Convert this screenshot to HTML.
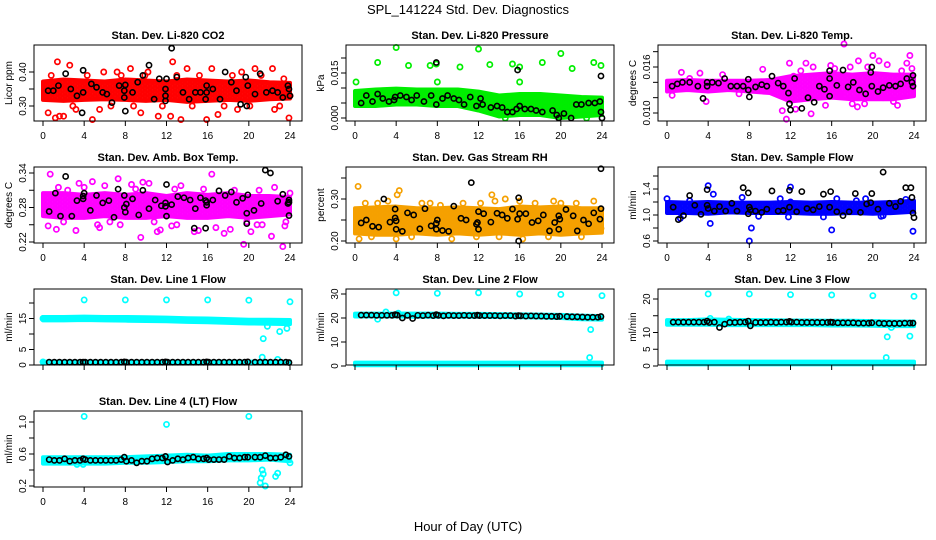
<!DOCTYPE html>
<html><head><meta charset="utf-8"><style>
html,body{margin:0;padding:0;background:#fff;}
svg{display:block;font-family:"Liberation Sans",sans-serif;}
</style></head><body>
<svg id="chart" width="936" height="540" viewBox="0 0 936 540">
<defs id="defs"></defs>
<text x="468" y="14" font-size="13" text-anchor="middle">SPL_141224  Std. Dev. Diagnostics</text>
<text x="468" y="531" font-size="13" text-anchor="middle">Hour of Day (UTC)</text>
</svg>
<script>
// ---- shared data ----
const hourTicks = [0,4,8,12,16,20,24];
const bandHours = [0,2,4,6,8,10,12,14,16,18,20,22,24];
const lineHours = [0.6,1.1,1.6,2.1,2.6,3.1,3.6,3.9,4.1,4.6,5.1,5.6,6.1,6.6,7.1,7.6,7.9,8.1,8.6,9.1,9.6,10.1,10.6,11.1,11.6,11.9,12.1,12.6,13.1,13.6,14.1,14.6,15.1,15.6,15.9,16.1,16.6,17.1,17.6,18.1,18.6,19.1,19.6,19.9,20.6,21.1,21.6,22.1,22.6,23.1,23.6,23.9];

// CO2
const co2BandLo = [0.318,0.315,0.318,0.320,0.318,0.315,0.318,0.312,0.315,0.318,0.315,0.320,0.322];
const co2BandHi = [0.372,0.378,0.375,0.372,0.378,0.375,0.372,0.378,0.375,0.372,0.375,0.370,0.368];
const co2Red = [[0.5,0.28],[1.2,0.265],[1.4,0.43],[1.6,0.27],[2,0.27],[2.6,0.42],[4.8,0.26],[7.2,0.40],[7.6,0.39],[8.5,0.41],[9.5,0.28],[10.2,0.40],[11.2,0.27],[12.4,0.27],[12.6,0.43],[13.4,0.26],[14,0.41],[15.9,0.26],[16.4,0.41],[17,0.275],[19.3,0.40],[20.6,0.41],[22.3,0.41],[23.9,0.265],[22.5,0.29],[3.2,0.29],[5.5,0.29],[18.9,0.29],[0.8,0.39],[2.9,0.30],[4.3,0.39],[5.9,0.40],[6.6,0.30],[8.8,0.30],[9.9,0.39],[11.6,0.30],[13.0,0.39],[14.5,0.30],[15.2,0.39],[17.6,0.30],[18.4,0.39],[20.1,0.30],[21.2,0.39],[23.0,0.30],[23.4,0.38],[0.2,0.325],[24,0.33]];
const co2Black = [[0.5,0.345],[1.0,0.345],[1.5,0.36],[2.2,0.395],[2.7,0.35],[3.3,0.33],[3.8,0.28],[3.9,0.34],[3.9,0.405],[4.7,0.365],[5.2,0.355],[5.8,0.34],[6.2,0.335],[6.7,0.31],[7.4,0.36],[7.9,0.345],[7.9,0.325],[8,0.285],[8,0.362],[8.7,0.34],[9.2,0.37],[9.7,0.39],[10.3,0.42],[10.8,0.32],[11.3,0.38],[11.9,0.315],[11.9,0.35],[11.9,0.33],[12.0,0.38],[12.5,0.47],[13.0,0.385],[13.6,0.34],[14.2,0.32],[14.8,0.34],[15.3,0.34],[15.8,0.32],[15.9,0.34],[15.9,0.36],[16.5,0.35],[17.2,0.32],[17.7,0.40],[18.3,0.37],[18.8,0.345],[19.2,0.305],[19.7,0.385],[19.8,0.30],[19.9,0.36],[20.6,0.335],[21.1,0.395],[21.7,0.34],[22.3,0.345],[22.8,0.34],[23.3,0.325],[23.8,0.36],[23.9,0.35],[24,0.33]];

// Pressure
const presBandLo = [0.0040,0.0040,0.0045,0.0045,0.0040,0.0040,0.0025,0.0005,0.0010,0.0010,0.0000,0.0005,0.0010];
const presBandHi = [0.0090,0.0095,0.0098,0.0095,0.0095,0.0095,0.0088,0.0075,0.0080,0.0080,0.0075,0.0070,0.0068];
const presGreen = [[0.1,0.012],[2.2,0.0185],[4,0.0235],[5.2,0.0175],[7.3,0.0175],[7.9,0.018],[8.0,0.012],[10.2,0.017],[12,0.023],[13.1,0.0178],[15.3,0.018],[16,0.012],[18.2,0.0185],[20,0.0215],[21.1,0.0165],[23.2,0.0185],[23.9,0.0175],[16,0.017],[19.7,0.0045],[14.6,0.0],[22.5,0.0]];
const presBlack = [[0.6,0.005],[1.1,0.0075],[1.7,0.0055],[2.2,0.008],[2.7,0.0065],[3.3,0.0055],[3.8,0.006],[3.9,0.007],[4.4,0.0075],[5.0,0.007],[5.5,0.006],[6.0,0.0075],[6.7,0.0055],[7.4,0.0075],[7.9,0.0045],[7.9,0.0185],[8.5,0.0065],[9.0,0.0075],[9.6,0.0065],[10.1,0.006],[10.6,0.0045],[11.2,0.007],[11.8,0.004],[12.2,0.0065],[12.4,0.0045],[13.2,0.0035],[13.8,0.004],[14.3,0.0035],[14.8,0.002],[15.3,0.002],[15.7,0.003],[15.8,0.016],[16,0.004],[16.5,0.003],[17.1,0.003],[17.6,0.0025],[18.2,0.002],[19.2,0.0025],[19.6,0.001],[19.8,0.0],[20.3,0.0015],[21.0,0.0],[21.5,0.0045],[22.0,0.0045],[22.7,0.005],[23.3,0.005],[23.8,0.0055],[23.9,0.002],[24,0.0],[23.9,0.014]];

// Li-820 temp
const ltBandLo = [0.0128,0.0130,0.0128,0.0130,0.0128,0.0126,0.0115,0.0118,0.0120,0.0118,0.0118,0.0118,0.0122];
const ltBandHi = [0.0142,0.0143,0.0142,0.0142,0.0142,0.0143,0.0148,0.0150,0.0152,0.0150,0.0152,0.0150,0.0150];
const ltMag = [[0.5,0.0123],[1.4,0.0153],[2.2,0.0145],[3.2,0.0152],[3.8,0.0115],[5.4,0.015],[7,0.0125],[9.3,0.0157],[11.2,0.0103],[11.6,0.0092],[11.9,0.0165],[12.3,0.0148],[13.5,0.0165],[14.2,0.016],[15,0.0148],[15.9,0.0162],[16.8,0.0125],[17.2,0.019],[17.8,0.016],[18.6,0.0168],[18.5,0.0108],[19.2,0.0112],[19.5,0.016],[20,0.0175],[21.0,0.012],[21.4,0.0163],[22,0.0115],[22.4,0.011],[23.3,0.0165],[23.6,0.0175],[23.8,0.0158],[12.5,0.0105],[14,0.0099],[13,0.0155],[16.3,0.0158],[18,0.0112],[20.6,0.0168],[22.8,0.0155],[15.4,0.0110]];
const ltBlack = [[0.5,0.0135],[1,0.0138],[1.5,0.014],[2.2,0.014],[3.0,0.0135],[3.5,0.0119],[3.9,0.014],[3.9,0.0135],[4.4,0.014],[5.0,0.0139],[5.6,0.0145],[6.2,0.0135],[6.8,0.0135],[7.4,0.0135],[7.9,0.0144],[7.9,0.013],[8.0,0.0121],[8.6,0.0134],[9.2,0.0137],[9.7,0.0135],[10.2,0.0148],[10.8,0.0139],[11.3,0.0135],[11.8,0.0126],[11.9,0.0112],[12.0,0.0104],[12.4,0.0145],[13.1,0.0106],[13.7,0.012],[14.3,0.0114],[14.8,0.0135],[15.3,0.0131],[15.8,0.0122],[15.8,0.0145],[15.8,0.0155],[16.5,0.0136],[17.1,0.0156],[17.6,0.0134],[18.1,0.014],[18.7,0.013],[19.3,0.0125],[19.8,0.0153],[19.9,0.016],[19.9,0.0135],[20.5,0.0128],[21.0,0.0133],[21.6,0.0136],[22.2,0.0135],[22.7,0.0138],[23.3,0.0145],[23.8,0.014],[23.9,0.0149],[23.9,0.0135]];

// Amb box temp
const abBandLo = [0.265,0.262,0.262,0.265,0.262,0.262,0.265,0.262,0.262,0.265,0.262,0.265,0.268];
const abBandHi = [0.305,0.305,0.302,0.305,0.302,0.305,0.300,0.305,0.302,0.305,0.300,0.300,0.298];
const abMag = [[0.7,0.338],[0.5,0.248],[1.3,0.242],[1.5,0.315],[2.4,0.31],[3.2,0.24],[4.0,0.315],[4.8,0.325],[5.3,0.25],[5.5,0.245],[6.0,0.318],[7.3,0.33],[7.5,0.25],[8.6,0.32],[9.5,0.228],[9.7,0.324],[10.3,0.322],[11.1,0.238],[11.4,0.241],[12.5,0.248],[13.4,0.318],[14.7,0.238],[15.1,0.24],[16.4,0.338],[16.8,0.245],[17.6,0.235],[18.2,0.242],[19.5,0.216],[19.8,0.255],[20.2,0.238],[20.8,0.25],[21.3,0.25],[22.5,0.315],[22.2,0.23],[23.3,0.212],[23.6,0.255],[23.5,0.248],[13.0,0.25],[3.5,0.322],[2.0,0.255],[6.5,0.255],[9.0,0.312],[10.8,0.255],[12.8,0.312],[15.6,0.312],[18.6,0.31],[21.0,0.31],[24,0.305]];
const abBlack = [[0.6,0.273],[1.2,0.305],[1.7,0.265],[2.2,0.334],[2.8,0.265],[3.3,0.292],[3.9,0.295],[3.9,0.3],[4.0,0.305],[4.6,0.275],[5.2,0.301],[5.8,0.288],[6.4,0.292],[6.9,0.263],[7.3,0.312],[7.9,0.301],[7.9,0.28],[8.0,0.272],[8.1,0.286],[8.7,0.295],[9.3,0.267],[9.7,0.31],[10.3,0.278],[10.9,0.293],[11.5,0.283],[11.9,0.288],[11.9,0.282],[12.0,0.32],[12.0,0.265],[12.5,0.285],[13.1,0.299],[13.7,0.297],[14.3,0.293],[14.7,0.244],[14.8,0.278],[15.3,0.297],[15.8,0.244],[15.8,0.292],[15.9,0.289],[15.9,0.284],[16.5,0.293],[17.1,0.309],[17.7,0.301],[18.3,0.307],[18.8,0.289],[19.4,0.296],[19.8,0.252],[19.8,0.27],[19.9,0.302],[20.5,0.275],[21.2,0.287],[21.6,0.345],[22.1,0.34],[22.8,0.291],[23.3,0.303],[23.8,0.287],[23.9,0.289],[23.9,0.266],[23.9,0.293]];

// Gas stream RH
const rhBandLo = [0.218,0.215,0.215,0.218,0.215,0.218,0.215,0.218,0.215,0.218,0.215,0.218,0.220];
const rhBandHi = [0.278,0.280,0.282,0.278,0.278,0.280,0.278,0.276,0.282,0.280,0.282,0.278,0.278];
const rhOrange = [[0.3,0.33],[0.4,0.205],[1.0,0.29],[2.2,0.29],[3.2,0.295],[4.1,0.31],[4.3,0.32],[4.0,0.205],[6.5,0.29],[7.3,0.29],[8.3,0.285],[9.4,0.205],[11.8,0.21],[12.2,0.29],[13.3,0.31],[13.6,0.295],[14.6,0.3],[16.0,0.295],[16.3,0.205],[18.8,0.21],[19.3,0.295],[20.0,0.29],[21.5,0.29],[23.2,0.295],[23.9,0.23],[1.6,0.21],[5.5,0.21],[10.5,0.29],[14.0,0.21],[17.5,0.29],[22.0,0.21]];
const rhBlack = [[0.6,0.243],[1.1,0.25],[1.7,0.235],[2.3,0.233],[2.8,0.3],[3.4,0.245],[3.9,0.255],[3.9,0.276],[4.0,0.228],[4.0,0.248],[4.6,0.223],[5.1,0.267],[5.7,0.262],[6.3,0.229],[6.8,0.277],[7.4,0.236],[7.9,0.242],[7.9,0.228],[8.0,0.25],[8.5,0.225],[9.1,0.223],[9.6,0.283],[10.3,0.254],[10.8,0.25],[11.3,0.339],[11.8,0.24],[11.9,0.244],[12.0,0.228],[12.0,0.27],[12.5,0.265],[13.2,0.245],[13.8,0.266],[14.3,0.262],[14.8,0.254],[15.3,0.276],[15.8,0.252],[15.9,0.2],[15.9,0.303],[16.0,0.265],[16.6,0.265],[17.2,0.244],[17.8,0.248],[18.3,0.262],[18.9,0.224],[19.4,0.244],[19.8,0.26],[19.8,0.228],[19.9,0.252],[20.5,0.275],[21.2,0.26],[21.6,0.224],[22.2,0.25],[22.7,0.241],[23.2,0.267],[23.8,0.252],[23.9,0.277],[23.9,0.372]];

// Sample flow
const sfBandLo = [1.03,1.03,1.02,1.04,1.03,1.03,1.03,1.02,1.02,1.03,1.02,1.03,1.05];
const sfBandHi = [1.20,1.19,1.20,1.19,1.19,1.19,1.20,1.19,1.20,1.19,1.19,1.20,1.22];
const sfBlue = [[0,1.25],[1.3,0.95],[2.2,1.22],[4.0,1.45],[4.2,0.87],[4.5,1.32],[7.3,1.27],[8.0,0.6],[8.2,0.8],[8.9,0.98],[11.0,1.25],[12.0,1.43],[11.8,0.97],[15.2,0.97],[16.0,0.77],[16.5,1.25],[19.3,1.25],[20.8,0.98],[23.9,0.75],[18.4,1.22],[12,1.2],[23.2,1.24],[21,0.99]];
const sfBlack = [[0.6,1.12],[1.1,0.93],[1.6,0.99],[2.2,1.3],[2.7,1.15],[3.3,1.01],[3.9,1.39],[3.9,1.15],[4.0,1.1],[4.6,1.06],[5.1,1.13],[5.7,1.06],[6.3,1.18],[6.8,1.06],[7.4,1.42],[7.9,1.34],[7.9,1.02],[8.0,1.12],[8.1,1.08],[8.6,1.06],[9.2,1.04],[9.7,1.09],[10.2,1.37],[10.8,1.06],[11.3,1.07],[11.9,1.12],[11.9,1.38],[12.6,1.05],[13.1,1.36],[13.6,1.1],[14.2,1.08],[14.8,1.13],[15.2,1.32],[15.8,1.12],[15.9,1.36],[16.5,1.05],[17.1,0.99],[17.7,1.05],[18.3,1.33],[18.8,1.04],[19.4,1.17],[19.8,1.19],[19.9,1.33],[20.5,1.09],[21.0,1.66],[21.6,1.18],[22.2,1.13],[22.7,1.21],[23.2,1.42],[23.7,1.42],[23.8,1.27],[23.9,1.03],[24,0.96]];

// Line 1 flow
const l1BandLo = [14.4,14.4,14.5,14.4,14.3,14.2,14.1,13.9,13.8,13.6,13.4,13.3,13.2];
const l1BandHi = [15.5,15.5,15.6,15.5,15.5,15.4,15.3,15.1,15.0,14.8,14.6,14.6,14.5];
const l1LowLo = [0.7,0.7,0.7,0.7,0.7,0.7,0.7,0.7,0.7,0.7,0.7,0.7,0.7];
const l1LowHi = [1.1,1.1,1.1,1.1,1.1,1.1,1.1,1.1,1.1,1.1,1.1,1.1,1.1];
const l1Cyan = [[4,21],[8,21],[12,21],[16,21],[20,20.9],[24,20.4],[21.3,2.5],[21.4,8.5],[21.8,12.5],[22.8,1.8],[23.0,10.8],[23.7,11.8],[0,15],[0,1]];
const l1Black = [0.9,0.9,0.9,0.9,0.9,0.9,0.9,0.9,0.9,0.9,0.9,0.9,0.9,0.9,0.9,0.9,1.0,0.9,0.9,0.9,0.9,0.9,0.9,0.9,0.9,1.0,0.9,0.9,0.9,0.9,0.9,0.9,0.9,0.9,1.0,0.9,0.9,0.9,0.9,0.9,0.9,0.9,0.9,1.0,0.9,0.9,0.9,0.9,0.9,0.9,0.9,0.8];

// Line 2 flow
const l2BandLo = [20.6,20.6,20.6,20.5,20.5,20.5,20.5,20.4,20.3,20.2,20.0,19.5,19.3];
const l2BandHi = [21.8,21.8,21.9,21.8,21.8,21.7,21.7,21.6,21.5,21.4,21.3,21.0,20.8];
const l2LowLo = [0.3,0.3,0.3,0.3,0.3,0.3,0.3,0.3,0.3,0.3,0.3,0.3,0.3];
const l2LowHi = [1.4,1.4,1.4,1.4,1.4,1.4,1.4,1.4,1.4,1.4,1.4,1.4,1.4];
const l2Cyan = [[4,30.5],[8,30.3],[12,30.5],[16,30],[20,29.8],[24,29.3],[22.9,15.2],[22.8,3.5],[2.2,19.5],[3,22.5],[4.2,22]];
const l2Black = [21.2,21.2,21.2,21.1,21.1,21.1,21.1,21.4,21.2,20.0,21.1,19.8,21.1,21.0,21.2,21.0,21.4,21.1,20.9,21.1,21.0,21.0,21.1,21.0,21.0,21.2,21.0,21.0,21.0,21.0,20.9,21.0,21.0,20.8,21.0,20.9,20.8,20.9,20.8,20.8,20.7,20.7,20.6,20.7,20.6,20.5,20.5,20.4,20.3,20.3,20.3,20.6];

// Line 3 flow
const l3BandLo = [12.3,12.3,12.3,12.2,12.2,12.2,12.2,12.2,12.1,12.1,12.0,11.9,11.9];
const l3BandHi = [13.7,13.7,13.9,13.8,13.7,13.7,13.6,13.6,13.5,13.5,13.4,13.3,13.3];
const l3LowLo = [0.5,0.5,0.5,0.5,0.5,0.5,0.5,0.5,0.5,0.5,0.5,0.5,0.5];
const l3LowHi = [1.3,1.3,1.3,1.3,1.3,1.3,1.3,1.3,1.3,1.3,1.3,1.3,1.3];
const l3Cyan = [[4,21.5],[8,21.5],[12,21.3],[16,21.2],[20,21],[24,20.8],[21.3,2.5],[21.4,8.7],[21.8,11.5],[23.6,8.9],[4.2,14.2],[6,14]];
const l3Black = [13.1,13.1,13.1,13.1,13.1,13.1,13.1,13.4,13.0,13.1,11.5,12.5,13.0,13.0,13.1,13.1,13.4,12.0,13.0,13.0,13.0,13.1,13.0,13.1,13.1,13.3,13.1,13.1,13.0,13.0,13.0,13.0,13.0,13.0,13.1,13.0,12.9,12.9,12.9,12.9,12.8,12.8,12.8,12.9,12.8,12.7,12.7,12.7,12.7,12.8,12.8,12.8];

// Line 4 flow
const l4BandLo = [0.48,0.48,0.48,0.48,0.49,0.49,0.50,0.51,0.51,0.52,0.52,0.53,0.51];
const l4BandHi = [0.56,0.56,0.56,0.56,0.56,0.57,0.58,0.59,0.58,0.60,0.60,0.60,0.59];
const l4Cyan = [[4,1.07],[12,0.97],[20,1.07],[21.1,0.24],[21.2,0.3],[21.3,0.4],[21.4,0.35],[21.6,0.2],[22.6,0.32],[22.8,0.36],[3.9,0.47],[3.3,0.47],[24,0.49]];
const l4Black = [0.53,0.52,0.52,0.54,0.51,0.52,0.52,0.54,0.53,0.52,0.52,0.52,0.52,0.52,0.52,0.53,0.56,0.51,0.52,0.49,0.51,0.51,0.54,0.55,0.55,0.57,0.50,0.52,0.54,0.53,0.55,0.56,0.54,0.54,0.55,0.53,0.53,0.53,0.53,0.57,0.55,0.55,0.56,0.56,0.56,0.56,0.58,0.55,0.55,0.56,0.59,0.57];

// ---- drawing ----
const svg = document.getElementById('chart');
const defs = document.getElementById('defs');
const NS = 'http://www.w3.org/2000/svg';
function mkIn(parent, tag, attrs){const e=document.createElementNS(NS,tag);for(const k in attrs)e.setAttribute(k,attrs[k]);parent.appendChild(e);return e;}
function mk(tag, attrs){return mkIn(svg, tag, attrs);}

function makePattern(id, color, bg){
  const pat = mkIn(defs,'pattern',{id:id,width:5,height:4,patternUnits:'userSpaceOnUse'});
  mkIn(pat,'rect',{x:0,y:0,width:5,height:4,fill:bg});
  mkIn(pat,'circle',{cx:2.5,cy:2,r:2.2,fill:'none',stroke:color,'stroke-width':1.8});
  mkIn(pat,'circle',{cx:0,cy:0,r:2.2,fill:'none',stroke:color,'stroke-width':1.8});
  mkIn(pat,'circle',{cx:5,cy:4,r:2.2,fill:'none',stroke:color,'stroke-width':1.8});
  mkIn(pat,'circle',{cx:0,cy:4,r:2.2,fill:'none',stroke:color,'stroke-width':1.8});
  mkIn(pat,'circle',{cx:5,cy:0,r:2.2,fill:'none',stroke:color,'stroke-width':1.8});
}

function drawPanel(p){
  const xs0 = 43 + 312*p.col, xs24 = 290 + 312*p.col;
  const xScale = h => xs0 + h*(xs24-xs0)/24;
  const top = 45 + 122*p.row, bot = top + 76;
  const left = xs0 - 9, right = xs24 + 12;
  const yScale = v => p.p1 + (v - p.v1)*(p.p2 - p.p1)/(p.v2 - p.v1);

  const t = mk('text',{x:(left+right)/2,y:top-6,'font-size':11,'font-weight':'bold','text-anchor':'middle'});
  t.textContent = p.title;
  
  

  makePattern('pat-'+p.key, p.color, p.bg || '#fff');
  p.bands.forEach((b,bi)=>{
    let pts = bandHours.map((h,i)=>xScale(h)+','+yScale(b.hi[i])).join(' ');
    pts += ' ' + bandHours.slice().reverse().map((h,i)=>xScale(h)+','+yScale(b.lo[bandHours.length-1-i])).join(' ');
    const poly = mk('polygon',{points:pts,fill:'url(#pat-'+p.key+')',stroke:p.color,'stroke-width':4,'stroke-linejoin':'round'});
    
    
  });
  p.colored.forEach(d=>{
    const c = mk('circle',{cx:xScale(d[0]),cy:yScale(d[1]),r:2.6,fill:'none',stroke:p.color,'stroke-width':1.7});
    
    
  });
  p.black.forEach(d=>{
    const c = mk('circle',{cx:xScale(d[0]),cy:yScale(d[1]),r:2.6,fill:'none',stroke:'#000','stroke-width':1.6});
    
    
  });

  const box = mk('rect',{x:left,y:top,width:right-left,height:bot-top,fill:'none',stroke:'#000','stroke-width':1});
  
  

  hourTicks.forEach(h=>{
    const tk = mk('line',{x1:xScale(h),x2:xScale(h),y1:bot,y2:bot+5,stroke:'#000'});
    
    
    if(p.xLabels){
      const tl = mk('text',{x:xScale(h),y:bot+18,'font-size':10,'text-anchor':'middle'});
      tl.textContent = h;
      
      
    }
  });
  p.yTicks.forEach((v,i)=>{
    const y = yScale(v);
    const tk = mk('line',{x1:left-5,x2:left,y1:y,y2:y,stroke:'#000'});
    
    
    if(p.yLabels[i]){
      const tl = mk('text',{x:left-8,y:y,'font-size':10,'text-anchor':'middle',transform:'rotate(-90 '+(left-8)+' '+y+')'});
      tl.textContent = p.yLabels[i];
      
      
    }
  });
  const cy = (top+bot)/2, ax = left - 22;
  const yt = mk('text',{x:ax,y:cy,'font-size':10,'text-anchor':'middle',transform:'rotate(-90 '+ax+' '+cy+')'});
  yt.textContent = p.ylab;
  
  
}

const toPairs = vals => vals.map((v,i)=>[lineHours[i],v]);

drawPanel({key:'co2',col:0,row:0,title:'Stan. Dev. Li-820 CO2',ylab:'Licor ppm',color:'#ff0000',v1:0.30,p1:106,v2:0.40,p2:72,
  yTicks:[0.30,0.35,0.40],yLabels:['0.30','','0.40'],xLabels:true,bands:[{lo:co2BandLo,hi:co2BandHi}],colored:co2Red,black:co2Black});
drawPanel({key:'pressure',col:1,row:0,title:'Stan. Dev. Li-820 Pressure',ylab:'kPa',color:'#00ee00',bg:'#2a7a2a',v1:0,p1:118,v2:0.015,p2:73,
  yTicks:[0,0.005,0.01,0.015,0.02],yLabels:['0.000','','','0.015',''],xLabels:true,bands:[{lo:presBandLo,hi:presBandHi}],colored:presGreen,black:presBlack});
drawPanel({key:'licor-temp',col:2,row:0,title:'Stan. Dev. Li-820 Temp.',ylab:'degrees C',color:'#ff00ff',v1:0.010,p1:113,v2:0.016,p2:67,
  yTicks:[0.010,0.012,0.014,0.016,0.018],yLabels:['0.010','','','0.016',''],xLabels:true,bands:[{lo:ltBandLo,hi:ltBandHi}],colored:ltMag,black:ltBlack});
drawPanel({key:'amb-temp',col:0,row:1,title:'Stan. Dev. Amb. Box Temp.',ylab:'degrees C',color:'#ff00ff',v1:0.22,p1:242,v2:0.34,p2:173,
  yTicks:[0.22,0.25,0.28,0.31,0.34],yLabels:['0.22','','0.28','','0.34'],xLabels:true,bands:[{lo:abBandLo,hi:abBandHi}],colored:abMag,black:abBlack});
drawPanel({key:'gas-rh',col:1,row:1,title:'Stan. Dev. Gas Stream RH',ylab:'percent',color:'#f5a000',bg:'#ffe000',v1:0.20,p1:241,v2:0.30,p2:199,
  yTicks:[0.20,0.25,0.30,0.35],yLabels:['0.20','','0.30',''],xLabels:true,bands:[{lo:rhBandLo,hi:rhBandHi}],colored:rhOrange,black:rhBlack});
drawPanel({key:'sample-flow',col:2,row:1,title:'Stan. Dev. Sample Flow',ylab:'ml/min',color:'#0000ff',v1:0.6,p1:241,v2:1.4,p2:189,
  yTicks:[0.6,0.8,1.0,1.2,1.4,1.6],yLabels:['0.6','','1.0','','1.4',''],xLabels:true,bands:[{lo:sfBandLo,hi:sfBandHi}],colored:sfBlue,black:sfBlack});
drawPanel({key:'line1-flow',col:0,row:2,title:'Stan. Dev. Line 1 Flow',ylab:'ml/min',color:'#00ffff',v1:0,p1:365,v2:15,p2:318.5,
  yTicks:[0,5,10,15,20],yLabels:['0','5','','15',''],xLabels:false,bands:[{lo:l1BandLo,hi:l1BandHi},{lo:l1LowLo,hi:l1LowHi}],colored:l1Cyan,black:toPairs(l1Black)});
drawPanel({key:'line2-flow',col:1,row:2,title:'Stan. Dev. Line 2 Flow',ylab:'ml/min',color:'#00ffff',v1:0,p1:366,v2:30,p2:294,
  yTicks:[0,10,20,30],yLabels:['0','10','20','30'],xLabels:false,bands:[{lo:l2BandLo,hi:l2BandHi},{lo:l2LowLo,hi:l2LowHi}],colored:l2Cyan,black:toPairs(l2Black)});
drawPanel({key:'line3-flow',col:2,row:2,title:'Stan. Dev. Line 3 Flow',ylab:'ml/min',color:'#00ffff',v1:0,p1:366,v2:20,p2:299,
  yTicks:[0,5,10,15,20],yLabels:['0','5','10','','20'],xLabels:false,bands:[{lo:l3BandLo,hi:l3BandHi},{lo:l3LowLo,hi:l3LowHi}],colored:l3Cyan,black:toPairs(l3Black)});
drawPanel({key:'line4-flow',col:0,row:3,title:'Stan. Dev. Line 4 (LT) Flow',ylab:'ml/min',color:'#00ffff',v1:0.2,p1:486,v2:1.0,p2:422,
  yTicks:[0.2,0.4,0.6,0.8,1.0],yLabels:['0.2','','0.6','','1.0'],xLabels:true,bands:[{lo:l4BandLo,hi:l4BandHi}],colored:l4Cyan,black:toPairs(l4Black)});
</script>
</body></html>
